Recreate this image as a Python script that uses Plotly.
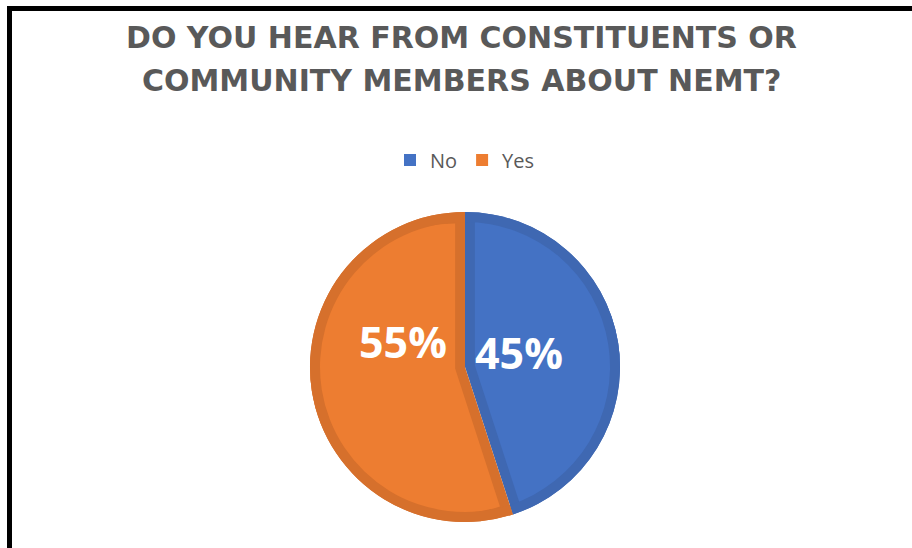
import plotly.graph_objects as go

# Survey answers
labels = ["No", "Yes"]
values = [45, 55]
fill_colors = ["#4472C4", "#ED7D31"]
edge_colors = ["#3F68B2", "#D6702C"]

title_lines = ["DO YOU HEAR FROM CONSTITUENTS OR", "COMMUNITY MEMBERS ABOUT NEMT?"]

W, H = 912, 548
cx, cy, R = 465, 367, 155   # pie centre and radius in pixels
band = 10                    # width of the darker inner edge of each slice

dom = dict(x=[(cx - R) / W, (cx + R) / W], y=[(H - cy - R) / H, (H - cy + R) / H])
common = dict(labels=labels, values=values, sort=False, direction="clockwise",
              rotation=0, domain=dom, hoverinfo="label+percent")

fig = go.Figure()
# darker base disc
fig.add_trace(go.Pie(**common, marker=dict(colors=edge_colors), textinfo="none",
                     showlegend=False))
# lighter slice faces, pulled slightly apart so the base shows along radial edges
fig.add_trace(go.Pie(**common, marker=dict(colors=fill_colors),
                     pull=[band / (R - band)] * len(values),
                     textinfo="none", showlegend=True))
# darker rim around the outside
fig.add_trace(go.Pie(**common, hole=(R - band) / R, marker=dict(colors=edge_colors),
                     textinfo="none", showlegend=False))

# percentage labels, placed near the centre of the pie
total = sum(values)
label_pos = [(519, 352), (403, 341)]   # pixel centres for "No" and "Yes"
annotations = []
for v, (px, py) in zip(values, label_pos):
    annotations.append(dict(
        text=f"{round(100 * v / total)}%", x=px / W, y=1 - py / H,
        xref="paper", yref="paper", xanchor="center", yanchor="middle",
        showarrow=False,
        font=dict(family="Open Sans", size=43, color="white", weight="bold")))

# two-line chart title
for i, line in enumerate(title_lines):
    annotations.append(dict(
        text=line, x=461 / W, y=1 - (38 + 42 * i) / H,
        xref="paper", yref="paper", xanchor="center", yanchor="middle",
        showarrow=False,
        font=dict(family="DejaVu Sans", size=30, color="#595959", weight="bold")))

fig.update_layout(
    width=W, height=H,
    margin=dict(l=0, r=0, t=0, b=0),
    paper_bgcolor="white",
    legend=dict(orientation="h", x=465 / W, xanchor="center", y=(H - 160) / H,
                yanchor="middle", font=dict(family="Open Sans", size=20, color="#595959"),
                itemwidth=30),
    annotations=annotations,
    shapes=[
        dict(type="line", xref="paper", yref="paper", x0=9.5 / W, x1=1.02,
             y0=1 - 8.5 / H, y1=1 - 8.5 / H, line=dict(color="black", width=5)),
        dict(type="line", xref="paper", yref="paper", x0=9.5 / W, x1=9.5 / W,
             y0=-0.02, y1=1 - 6 / H, line=dict(color="black", width=5)),
    ],
)

fig.write_html("out.html")
